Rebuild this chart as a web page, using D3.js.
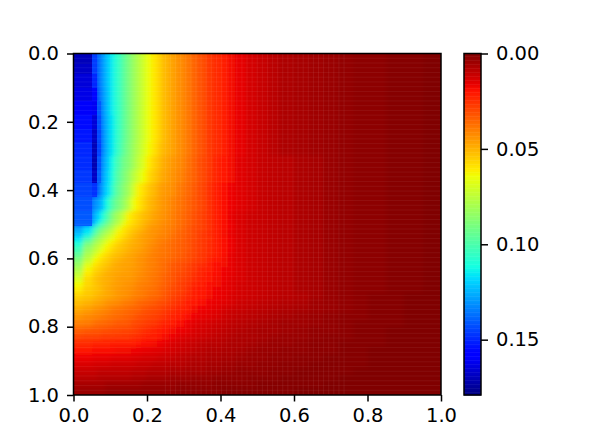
<!DOCTYPE html>
<html>
<head>
<meta charset="utf-8">
<script src="https://cdn.jsdelivr.net/npm/d3@7"></script>
<style>
body { margin: 0; background: #fff; }
text { font-family: "DejaVu Sans"; font-size: 19.5px; fill: #000; }
</style>
</head>
<body>
<script>
var w = 592;
var h = 444;

var xTicks = [0, 0.2, 0.4, 0.6, 0.8, 1];
var yTicks = [0, 0.2, 0.4, 0.6, 0.8, 1];
var barTicks = [0, 0.05, 0.1, 0.15];
var barMax = 0.179;

// cell edges of the mesh, finer where the colours change fast
var xEdges = [0, .025, .05, .064, .075, .086, .1, .114, .128, .142, .156, .17, .184, .198, .212, .226, .24, .26, .28, .3, .32, .34, .36, .38, .4, .42, .44, .47, .5, .53, .56, .6, .64, .68, .72, .76, .8, .85, .9, .95, 1];
var yEdges = [0, .03, .06, .1, .14, .18, .22, .26, .3, .34, .38, .42, .46, .49, .505, .52, .535, .55, .565, .58, .595, .61, .625, .64, .655, .67, .685, .7, .72, .74, .76, .78, .8, .82, .84, .86, .88, .9, .92, .94, .96, .98, 1];

// values, in thousandths, one list per row
var cells = [
[170,170,146,137,130,122,114,106,97,90,83,77,71,65,60,56,51,47,43,39,35,31,27,24,21,18,16,13,11,9,7,6,5,4,3,2,2,1,1,0],
[168,168,146,137,130,122,114,106,97,90,83,77,71,65,60,56,51,47,43,39,35,31,27,24,21,18,16,13,11,9,7,6,5,4,3,2,2,1,1,0],
[165,165,150,137,130,122,114,106,97,90,83,77,71,65,60,56,51,47,43,39,35,31,27,24,21,18,16,13,11,9,7,6,5,4,3,2,2,1,1,0],
[163,163,156,139,131,123,114,106,97,90,83,77,71,65,60,56,51,47,43,39,35,31,27,24,21,18,16,13,11,9,7,6,5,4,3,2,2,1,1,0],
[160,160,161,141,132,123,114,106,97,90,83,77,71,65,60,56,51,47,43,39,35,31,27,24,21,18,16,13,11,9,7,6,5,4,3,2,2,1,1,0],
[155,155,165,143,133,124,115,106,97,90,83,77,71,65,60,56,51,47,43,39,35,31,27,24,21,18,16,13,11,9,7,6,5,4,3,2,2,1,1,0],
[153,153,168,144,134,124,115,106,97,90,83,77,71,65,60,56,51,47,43,39,35,31,27,24,21,18,16,13,11,9,7,6,5,4,3,2,2,1,1,0],
[150,150,170,145,134,124,115,105,96,89,82,76,70,64,59,54,50,47,43,39,35,31,27,24,21,18,16,13,11,9,7,6,5,4,3,2,2,1,1,0],
[149,149,171,142,131,122,112,101,92,88,81,74,68,61,56,52,48,45,42,38,34,30,27,23,20,18,15,13,11,10,9,7,6,4,3,2,2,1,1,0],
[147,147,168,140,129,120,110,98,90,84,76,70,64,58,54,50,47,44,41,37,34,30,26,23,20,18,15,13,11,10,9,7,6,4,3,2,2,1,1,0],
[145,145,148,138,127,118,107,95,87,81,71,62,58,54,51,47,45,43,39,36,33,29,25,22,19,17,15,13,11,10,9,7,6,4,3,2,2,1,1,0],
[143,143,132,128,121,110,99,91,84,76,65,60,56,52,49,46,44,41,38,35,32,29,25,22,19,17,15,13,11,10,9,7,6,4,3,2,2,1,1,0],
[141,141,126,118,110,100,88,80,72,62,58,55,52,50,47,45,43,40,37,34,31,28,25,22,19,16,14,12,11,10,9,7,6,4,3,2,2,1,1,0],
[140,140,122,110,102,92,84,76,66,60,57,54,51,48,46,44,42,40,37,34,31,28,25,22,19,17,14,12,11,10,9,7,6,4,3,2,2,1,1,0],
[128,118,106,96,90,84,77,67,60,57,54,52,49,46,44,43,41,39,36,33,30,28,25,22,19,17,14,12,11,10,9,7,6,4,3,2,2,1,1,0],
[124,115,100,89,83,77,71,62,59,55,52,49,47,45,44,42,41,38,35,33,30,27,24,21,18,16,14,12,11,10,9,7,6,4,3,2,2,1,1,0],
[117,103,88,82,77,71,65,60,56,53,50,48,46,45,43,41,40,37,35,32,30,27,25,22,19,17,14,12,11,10,9,7,6,4,3,2,2,1,1,0],
[110,91,81,76,71,64,60,56,53,51,49,48,46,44,42,40,38,36,34,32,29,27,24,21,19,17,14,12,11,10,9,7,6,4,3,2,2,1,1,0],
[103,84,76,71,65,61,57,54,52,50,48,47,45,43,41,39,38,36,34,32,29,27,24,21,19,17,14,12,11,10,9,7,6,4,3,2,2,1,1,0],
[96,79,71,64,60,57,54,52,50,48,47,45,44,42,40,39,38,36,34,31,29,26,24,21,19,16,14,12,11,10,9,7,6,4,3,2,2,1,1,0],
[89,75,64,60,57,55,52,50,48,47,46,44,43,41,40,38,37,35,33,31,28,26,23,20,18,16,14,12,11,10,9,7,6,4,3,2,2,1,1,0],
[84,68,60,57,55,53,50,48,47,47,46,44,43,41,40,38,36,33,31,29,26,24,21,19,18,16,14,12,11,10,9,7,6,4,3,2,2,1,1,0],
[79,63,57,55,53,51,49,48,47,46,45,44,42,41,39,38,36,33,31,28,26,23,21,19,17,16,14,12,11,10,9,7,6,4,3,2,2,1,1,0],
[74,60,55,53,51,49,48,47,46,46,45,43,42,40,39,37,35,32,30,28,25,23,20,19,17,16,14,12,11,10,9,7,6,4,3,2,2,1,1,0],
[69,57,53,51,50,49,48,46,45,45,44,42,41,40,38,37,34,32,29,27,24,22,20,18,17,15,14,12,11,10,9,7,6,4,3,2,2,1,1,0],
[64,57,54,52,50,49,47,46,45,44,43,41,40,39,38,36,34,31,28,26,23,21,19,18,16,15,13,12,11,10,9,7,6,4,3,2,2,1,1,0],
[60,55,53,52,50,48,47,45,44,43,42,40,39,38,37,35,33,30,28,25,22,20,19,17,16,15,13,12,11,10,9,7,6,4,3,2,2,1,1,0],
[56,54,52,50,49,48,47,45,44,43,41,40,39,37,36,35,32,29,27,24,21,20,18,17,16,14,13,12,11,10,9,8,6,4,3,2,1,1,0,0],
[52,50,48,47,46,44,43,42,40,39,38,36,35,34,33,31,30,27,25,22,20,19,17,16,15,14,12,11,10,9,8,7,5,4,3,2,1,1,0,0],
[48,46,44,43,42,41,39,38,37,36,35,34,32,31,30,29,27,25,23,21,18,17,16,15,13,12,11,10,9,8,7,6,5,4,3,2,1,1,0,0],
[44,42,41,40,39,38,37,36,35,34,33,31,30,29,28,27,25,23,21,19,17,16,15,14,12,11,10,9,8,7,6,5,4,3,2,2,1,1,0,0],
[40,39,37,36,36,35,34,33,33,32,30,29,28,27,26,24,23,21,19,17,15,14,13,12,11,10,9,8,7,6,5,5,4,3,2,1,1,1,0,0],
[34,33,32,32,31,31,30,30,29,29,28,27,25,24,23,22,20,18,17,16,14,13,12,11,10,9,8,7,6,6,5,4,3,3,2,1,1,0,0,0],
[29,28,28,28,27,27,27,26,26,26,25,24,23,22,21,20,18,17,15,14,13,12,11,10,9,8,7,7,6,5,4,4,3,2,2,1,1,0,0,0],
[24,24,23,23,23,23,22,22,22,22,21,20,19,19,18,17,16,14,13,12,11,10,9,9,8,7,7,6,5,4,4,3,2,2,1,1,1,0,0,0],
[20,20,19,19,19,19,19,18,18,18,17,17,16,16,15,15,14,13,12,11,10,9,8,8,7,7,6,5,4,4,3,3,2,2,1,1,0,0,0,0],
[17,17,16,16,16,16,15,15,15,15,14,14,13,13,13,12,12,11,10,9,8,8,7,7,6,6,5,4,4,3,3,2,2,1,1,1,0,0,0,0],
[14,14,13,13,13,13,12,12,12,12,12,11,11,11,10,10,10,9,9,8,7,7,6,6,5,5,4,4,3,3,2,2,1,1,1,1,0,0,0,0],
[11,11,11,10,10,10,10,10,10,10,9,9,9,8,8,8,8,7,7,6,6,6,5,5,4,4,3,3,3,2,2,1,1,1,1,0,0,0,0,0],
[9,9,9,8,8,8,8,8,8,8,7,7,7,6,6,6,6,5,5,5,4,4,4,3,3,3,3,2,2,2,1,1,1,1,0,0,0,0,0,0],
[6,6,6,6,6,5,5,5,5,5,5,5,4,4,4,4,4,4,3,3,3,3,3,2,2,2,2,2,1,1,1,1,1,0,0,0,0,0,0,0],
[4,4,4,4,4,3,3,3,3,3,3,3,3,3,3,3,3,3,2,2,2,2,2,2,1,1,1,1,1,1,1,0,0,0,0,0,0,0,0,0]
];

var svg = d3.select("body")
  .append("svg")
  .attr("width", w)
  .attr("height", h);

var x = d3.scaleLinear().domain([0, 1]).range([73.5, 441]);
var y = d3.scaleLinear().domain([0, 1]).range([53.5, 395]);
var barY = d3.scaleLinear().domain([0, barMax]).range([53.5, 395]);

// jet colormap, flipped so that 0 is dark red
var red = d3.scaleLinear().domain([0.35, 0.66, 0.89, 1]).range([0, 255, 255, 128]).clamp(true);
var green = d3.scaleLinear().domain([0.125, 0.375, 0.64, 0.91]).range([0, 255, 255, 0]).clamp(true);
var blue = d3.scaleLinear().domain([0, 0.11, 0.34, 0.65]).range([128, 255, 255, 0]).clamp(true);
function jet(v) {
  var t = 1 - v / barMax;
  return d3.rgb(red(t), green(t), blue(t));
}

var defs = svg.append("defs");
defs.append("clipPath").attr("id", "box").append("rect")
  .attr("x", x(0)).attr("y", y(0))
  .attr("width", x(1) - x(0)).attr("height", y(1) - y(0));
defs.append("filter").attr("id", "soft")
  .attr("x", "-5%").attr("y", "-5%").attr("width", "110%").attr("height", "110%")
  .append("feGaussianBlur").attr("stdDeviation", 2);

var flat = [];
cells.forEach(function(row, j) {
  row.forEach(function(v, i) { flat.push({v: v / 1000, i: i, j: j}); });
});

function drawCells(g, list) {
  g.selectAll("rect")
    .data(list)
    .join("rect")
    .attr("x", function(d) { return x(xEdges[d.i]); })
    .attr("y", function(d) { return y(yEdges[d.j]); })
    .attr("width", function(d) { return x(xEdges[d.i + 1]) - x(xEdges[d.i]); })
    .attr("height", function(d) { return y(yEdges[d.j + 1]) - y(yEdges[d.j]); })
    .attr("shape-rendering", "crispEdges")
    .attr("fill", function(d) { return jet(d.v); });
}

//mesh: a flat copy under the softened one, then the blue block kept sharp
var mesh = svg.append("g").attr("clip-path", "url(#box)");
drawCells(mesh.append("g"), flat);
drawCells(mesh.append("g").attr("filter", "url(#soft)"), flat);
drawCells(mesh.append("g"), flat.filter(function(d) { return d.v >= 0.14; }));

// pale seams between the mesh cells
svg.append("g").selectAll("line")
  .data(d3.range(1, 72))
  .join("line")
  .attr("x1", x(0))
  .attr("x2", x(1))
  .attr("y1", function(d) { return y(d / 72); })
  .attr("y2", function(d) { return y(d / 72); })
  .attr("stroke", "#fff")
  .attr("stroke-opacity", 0.06);

svg.append("g").selectAll("line")
  .data(d3.range(18, 54))
  .join("line")
  .attr("x1", function(d) { return x(d / 72); })
  .attr("x2", function(d) { return x(d / 72); })
  .attr("y1", y(0))
  .attr("y2", y(1))
  .attr("stroke", "#fff")
  .attr("stroke-opacity", 0.07);

//colorbar
svg.append("g").selectAll("rect")
  .data(d3.range(0, 256))
  .join("rect")
  .attr("x", 464)
  .attr("y", function(d) { return barY(d / 256 * barMax); })
  .attr("width", 17)
  .attr("height", 342 / 256 + 0.5)
  .attr("fill", function(d) { return jet((d + 0.5) / 256 * barMax); });

//frames
svg.append("rect")
  .attr("x", x(0)).attr("y", y(0))
  .attr("width", x(1) - x(0)).attr("height", y(1) - y(0))
  .attr("fill", "none").attr("stroke", "#000").attr("stroke-width", 1.5);

svg.append("rect")
  .attr("x", 464).attr("y", y(0))
  .attr("width", 17).attr("height", y(1) - y(0))
  .attr("fill", "none").attr("stroke", "#000").attr("stroke-width", 1.5);

//axes
function style(g) {
  g.select(".domain").remove();
  g.selectAll("line").attr("stroke", "#000").attr("stroke-width", 1.5);
}

svg.append("g")
  .attr("transform", "translate(0,395)")
  .call(d3.axisBottom(x).tickValues(xTicks).tickFormat(d3.format(".1f")).tickSize(6.5).tickPadding(7))
  .call(style);

svg.append("g")
  .attr("transform", "translate(73.5,0)")
  .call(d3.axisLeft(y).tickValues(yTicks).tickFormat(d3.format(".1f")).tickSize(6.5).tickPadding(8))
  .call(style);

svg.append("g")
  .attr("transform", "translate(481,0)")
  .call(d3.axisRight(barY).tickValues(barTicks).tickFormat(d3.format(".2f")).tickSize(7).tickPadding(8))
  .call(style);
</script>
</body>
</html>
